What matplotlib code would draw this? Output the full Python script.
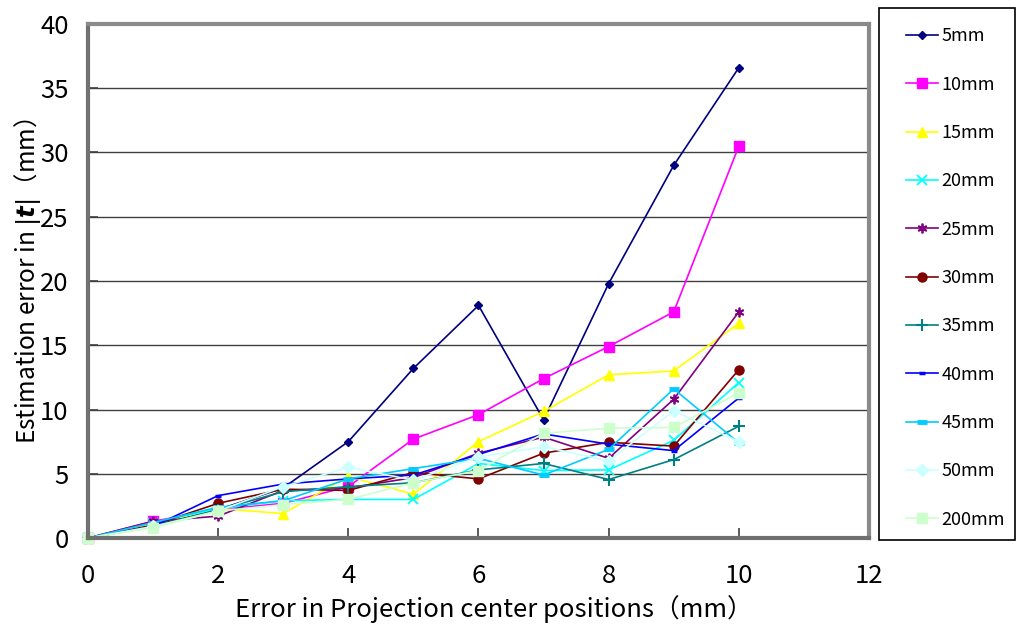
import matplotlib
matplotlib.use("Agg")
import matplotlib.pyplot as plt
from matplotlib.patches import Rectangle
from matplotlib.markers import MarkerStyle

plt.rcParams['font.family'] = ['Noto Sans CJK JP', 'DejaVu Sans']

x_vals = [0, 1, 2, 3, 4, 5, 6, 7, 8, 9, 10]
labels = ["5mm", "10mm", "15mm", "20mm", "25mm", "30mm", "35mm", "40mm", "45mm", "50mm", "200mm"]

s5 = [0, 1.0, 2.2, 3.9, 7.5, 13.2, 18.1, 9.2, 19.8, 29.0, 36.6]
s10 = [0, 1.3, 2.2, 2.7, 4.0, 7.7, 9.6, 12.4, 14.9, 17.6, 30.5]
s15 = [0, 1.1, 2.3, 1.9, 4.8, 3.4, 7.5, 9.85, 12.7, 13.0, 16.7]
s20 = [0, 1.2, 2.3, 2.9, 3.0, 3.0, 5.8, 5.25, 5.3, 7.6, 12.1]
s25 = [0, 1.3, 1.7, 3.7, 3.9, 4.7, 6.6, 7.85, 6.2, 10.8, 17.6]
s30 = [0, 1.0, 2.7, 3.8, 3.7, 5.1, 4.6, 6.6, 7.45, 7.15, 13.1]
s35 = [0, 0.9, 2.2, 3.6, 4.0, 4.3, 5.3, 5.8, 4.55, 6.1, 8.7]
s40 = [0, 0.9, 3.3, 4.2, 4.6, 4.9, 6.5, 8.1, 7.3, 6.8, 10.9]
s45 = [0, 1.2, 2.4, 2.9, 4.6, 5.4, 6.2, 4.9, 6.9, 11.6, 7.4]
s50 = [0, 0.9, 2.1, 4.0, 5.5, 4.5, 6.3, 7.1, 6.0, 9.9, 7.5]
s200 = [0, 0.8, 2.1, 2.6, 3.0, 4.3, 5.25, 8.15, 8.55, 8.6, 11.3]

series = [s5, s10, s15, s20, s25, s30, s35, s40, s45, s50, s200]
colors = ["#000080", "#FF00FF", "#FFFF00", "#00FFFF", "#800080", "#800000",
          "#008080", "#0000FF", "#00CCFF", "#CCFFFF", "#CCFFCC"]
asterisk = MarkerStyle((6, 2, 0))
markers = ["D", "s", "^", "x", asterisk, "o", "+", "_", "_", "D", "s"]
msizes = [4.5, 6.5, 7, 7, 7, 6.5, 8, 5, 7, 6.5, 6.5]
mews = [1, 1, 1, 1.3, 1.3, 1, 1.5, 2.5, 3.5, 1, 1]

x_ticks = [0, 2, 4, 6, 8, 10, 12]
y_ticks = [0, 5, 10, 15, 20, 25, 30, 35, 40]

fig = plt.figure(figsize=(10.18, 6.24), dpi=100)
ax = fig.add_axes([88/1018, 1-538/624, (869-88)/1018, (538-24)/624])

for vals, lab, c, m, ms, mew in zip(series, labels, colors, markers, msizes, mews):
    ax.plot(x_vals, vals, color=c, marker=m, markersize=ms, markeredgewidth=mew,
            markerfacecolor=c, markeredgecolor=c, linewidth=1.2, label=lab,
            clip_on=False)

ax.set_xlim(0, 12)
ax.set_ylim(0, 40)
ax.set_xticks(x_ticks)
ax.set_yticks(y_ticks)
ax.yaxis.grid(True, color="#404040", linewidth=1.0)
ax.set_axisbelow(True)
ax.tick_params(axis='both', direction='in', length=7, width=1.2, labelsize=18.5,
               color='#404040')
ax.tick_params(axis='x', pad=18)
ax.tick_params(axis='y', pad=14)
for side in ['top', 'right']:
    ax.spines[side].set_color('#8a8a8a')
    ax.spines[side].set_linewidth(3)
for side in ['left', 'bottom']:
    ax.spines[side].set_color('#707070')
    ax.spines[side].set_linewidth(3)

ax.set_xlabel("Error in Projection center positions（mm）", fontsize=18.5)
ax.xaxis.set_label_coords(0.52, -0.11)
ax.set_ylabel(r"Estimation error in $|\mathbfit{t}|$（mm）", fontsize=17.6, labelpad=-2)

# legend frame
fig.patches.append(Rectangle((879/1018, 1-540/624), (1015-879)/1018, (540-8)/624,
                             transform=fig.transFigure, fill=False,
                             edgecolor='black', linewidth=1.2))
handles, labs = ax.get_legend_handles_labels()
fig.legend(handles, labs, loc='upper left', bbox_to_anchor=(899/1018, 1-20/624),
           frameon=False, fontsize=13, handlelength=1.75, handletextpad=0.2,
           labelspacing=1.68, borderaxespad=0)

fig.savefig("out.png", dpi=100)
